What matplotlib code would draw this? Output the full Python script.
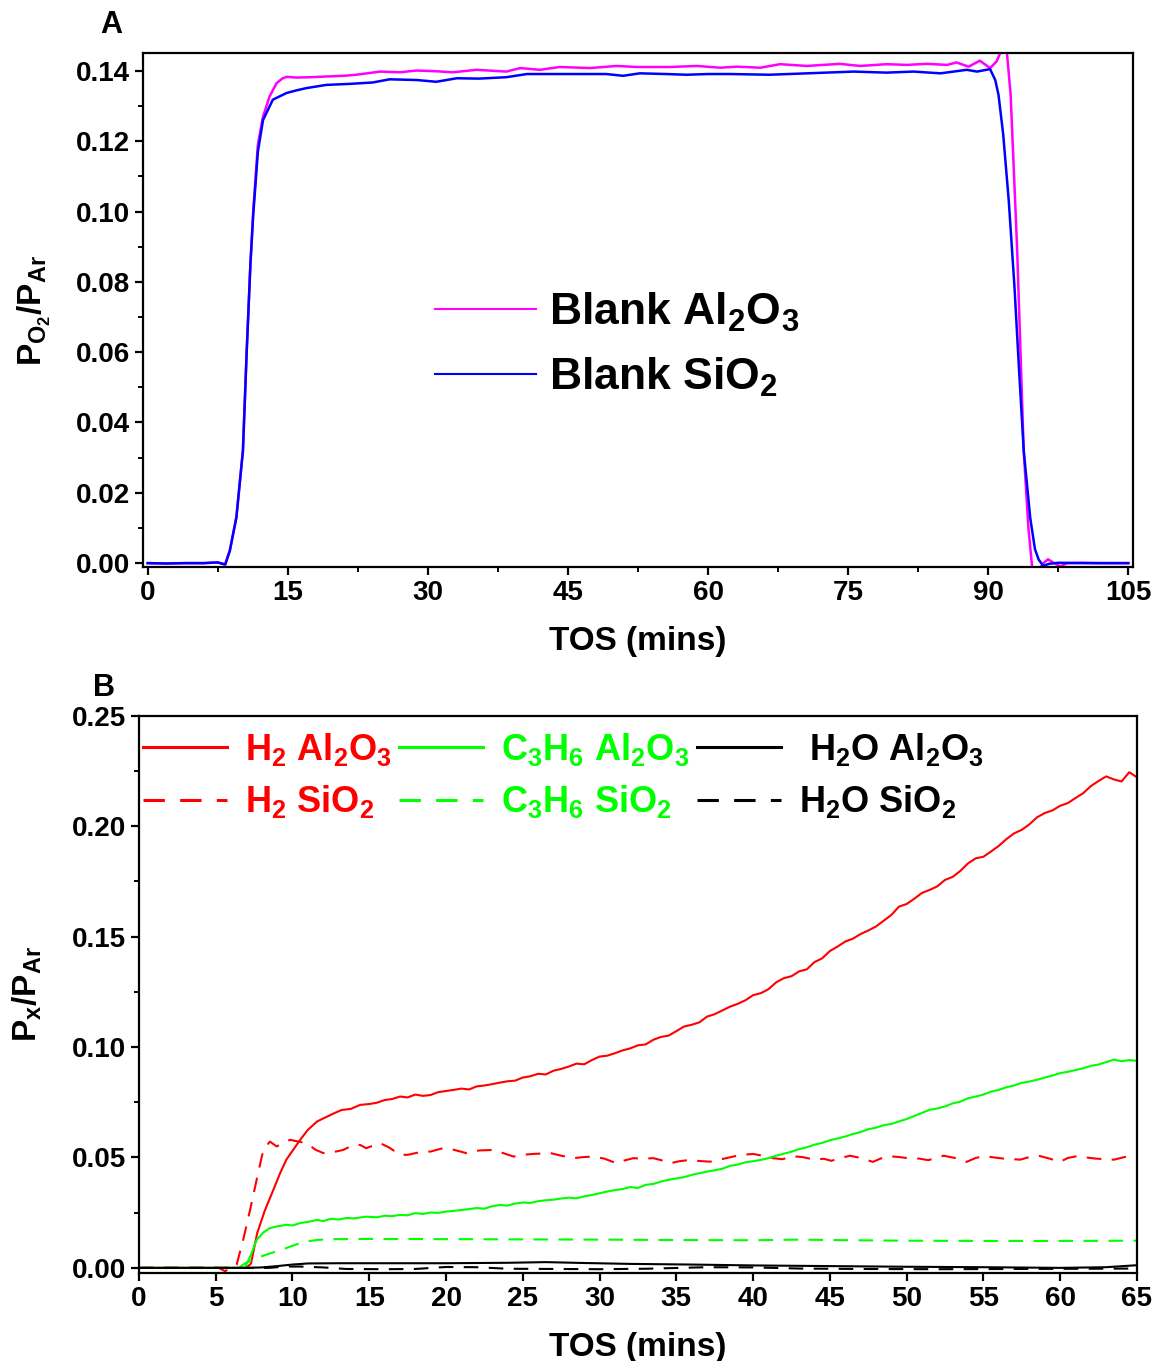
import matplotlib
matplotlib.use('Agg')
import matplotlib.pyplot as plt
from matplotlib.ticker import MultipleLocator, FormatStrFormatter

plt.rcParams['font.family'] = ['Liberation Sans', 'DejaVu Sans']
plt.rcParams['font.weight'] = 'bold'
plt.rcParams['mathtext.default'] = 'regular'

# ---- panel A: O2 signal over the blank supports ----
tA_al = [0, 2, 4, 6, 7.5, 8.3, 8.8, 9.5, 10.2, 10.6, 11.0, 11.3, 11.8, 12.35, 13.05,
         13.8, 14.4, 14.86, 15.9, 17.5, 19.1, 21, 22.35, 24.9, 27.0, 28.8, 30.8, 32.7,
         35.2, 38.4, 39.9, 42.0, 44.1, 47.4, 50.2, 52.4, 55.9, 58.8, 61.3, 63.1, 65.6,
         67.7, 70.6, 74.1, 76.3, 79.1, 81.3, 83.4, 85.6, 86.6, 87.9, 89.1, 90.2, 90.9,
         91.3, 91.6, 92.0, 92.4, 93.1, 93.8, 94.3, 94.7, 95.1, 95.6, 96.0, 96.4, 97.0,
         97.7, 98.5, 100, 102, 105]
o2_al = [0.0, -0.0001, 0.0, 0.0, 0.0002, -0.0004, 0.0037, 0.0131, 0.032, 0.060, 0.085,
         0.100, 0.119, 0.127, 0.1327, 0.1365, 0.1378, 0.1383, 0.1381, 0.1382, 0.1384,
         0.1386, 0.1389, 0.1398, 0.1396, 0.1401, 0.1399, 0.1396, 0.1403, 0.1398, 0.1408,
         0.1403, 0.1411, 0.1408, 0.1414, 0.1411, 0.1411, 0.1414, 0.1409, 0.1412, 0.1409,
         0.1419, 0.1414, 0.1420, 0.1414, 0.1419, 0.1417, 0.1420, 0.1417, 0.1424, 0.1412,
         0.1429, 0.1408, 0.1427, 0.1452, 0.1468, 0.1452, 0.1332, 0.089, 0.032, 0.010,
         -0.0011, -0.0035, -0.0011, 0.0002, 0.0011, 0.0001, -0.0009, 0.0, 0.0001, 0.0, 0.0]

tA_si = [0, 2, 4, 6, 7.5, 8.3, 8.8, 9.5, 10.2, 10.6, 11.0, 11.3, 11.8, 12.35, 13.4,
         14.86, 16, 17.0, 19.1, 21.6, 24.1, 25.9, 28.8, 30.9, 33.1, 35.5, 38.4, 40.6,
         45.6, 49.1, 50.9, 52.7, 55.5, 57.7, 60, 62.4, 66.6, 70.6, 75.6, 79.1, 82.0,
         84.9, 87.7, 88.8, 90.2, 90.75, 91.1, 91.6, 92.2, 92.8, 93.3, 93.8, 94.5, 95.0,
         95.4, 95.9, 96.5, 97.5, 100, 105]
o2_si = [0.0, -0.0001, 0.0, 0.0, 0.0002, -0.0004, 0.0035, 0.013, 0.032, 0.060, 0.085,
         0.099, 0.117, 0.126, 0.1318, 0.1337, 0.1345, 0.1351, 0.1360, 0.1363, 0.1367,
         0.1376, 0.1374, 0.1369, 0.1379, 0.1378, 0.1382, 0.1391, 0.1391, 0.1391, 0.1386,
         0.1393, 0.1391, 0.1389, 0.1391, 0.1391, 0.1389, 0.1393, 0.1398, 0.1395, 0.1398,
         0.1393, 0.1403, 0.1398, 0.1405, 0.1374, 0.1332, 0.122, 0.103, 0.079, 0.055,
         0.032, 0.0128, 0.004, 0.001, -0.0008, -0.0002, 0.0001, 0.0, 0.0]

# ---- panel B: products over the catalysts ----
tB_h2_al = [0, 2, 4, 6, 7.0, 7.3, 7.7, 8.2, 8.75, 9.2, 9.6, 10.0, 10.5, 11.0, 11.6,
            12.1, 12.7, 13.2, 13.8, 14.4, 15.0, 15.5, 16.0, 16.5, 17.0, 17.5, 18.0,
            18.5, 19.0, 19.5, 20.0, 20.5, 21, 21.5, 22, 22.5, 23, 23.5, 24, 24.5, 25,
            25.5, 26, 26.5, 27, 27.5, 28, 28.5, 29, 29.5, 30, 30.5, 31, 31.5, 32, 32.5,
            33, 33.5, 34, 34.5, 35, 35.5, 36, 36.5, 37, 37.5, 38, 38.5, 39, 39.5, 40,
            40.5, 41, 41.5, 42, 42.5, 43, 43.5, 44, 44.5, 45, 45.5, 46, 46.5, 47, 47.5,
            48, 48.5, 49, 49.5, 50, 50.5, 51, 51.5, 52, 52.5, 53, 53.5, 54, 54.5, 55,
            55.5, 56, 56.5, 57, 57.5, 58, 58.5, 59, 59.5, 60, 60.5, 61, 61.5, 62, 62.5,
            63, 63.5, 64, 64.5, 65]
h2_al = [0.0, 0.0, 0.0, 0.0, 0.0, 0.002, 0.0157, 0.026, 0.0353, 0.043, 0.049, 0.053,
         0.058, 0.0625, 0.0663, 0.068, 0.070, 0.0715, 0.072, 0.0738, 0.0742, 0.0748,
         0.0760, 0.0765, 0.0776, 0.0772, 0.0785, 0.0779, 0.0783, 0.0796, 0.0801, 0.0806,
         0.0812, 0.0808, 0.0822, 0.0826, 0.0832, 0.0839, 0.0845, 0.0848, 0.0862, 0.0868,
         0.0879, 0.0876, 0.0893, 0.0901, 0.0912, 0.0925, 0.0922, 0.0941, 0.0957, 0.0961,
         0.0972, 0.0985, 0.0994, 0.1008, 0.1012, 0.1033, 0.1046, 0.1052, 0.1072, 0.1093,
         0.1101, 0.1112, 0.1138, 0.1149, 0.1166, 0.1183, 0.1196, 0.1212, 0.1235, 0.1244,
         0.1262, 0.1293, 0.1312, 0.1321, 0.1343, 0.1352, 0.1385, 0.1402, 0.1435, 0.1455,
         0.1478, 0.1491, 0.1512, 0.1528, 0.1546, 0.1572, 0.1598, 0.1636, 0.1648, 0.1672,
         0.1698, 0.1712, 0.1728, 0.1757, 0.1771, 0.1798, 0.1832, 0.1855, 0.1862, 0.1886,
         0.1911, 0.1942, 0.1968, 0.1984, 0.2009, 0.2041, 0.2060, 0.2072, 0.2093, 0.2105,
         0.2128, 0.2150, 0.2182, 0.2205, 0.2226, 0.2212, 0.2203, 0.2245, 0.2222]

tB_c3_al = [0, 3, 6.9, 7.3, 7.67, 8.1, 8.53, 9.0, 9.6, 10.0, 10.5, 11.0, 11.6, 12.0,
            12.5, 13.0, 13.5, 14.0, 14.8, 15.5, 16, 16.5, 17, 17.5, 18, 18.5, 19, 19.5,
            20, 20.5, 21, 21.5, 22, 22.5, 23, 23.5, 24, 24.5, 25, 25.5, 26, 26.5, 27,
            27.5, 28, 28.5, 29, 29.5, 30, 30.5, 31, 31.5, 32, 32.5, 33, 33.5, 34, 34.5,
            35, 35.5, 36, 36.5, 37, 37.5, 38, 38.5, 39, 39.5, 40, 40.5, 41, 41.5, 42,
            42.5, 43, 43.5, 44, 44.5, 45, 45.5, 46, 46.5, 47, 47.5, 48, 48.5, 49, 49.5,
            50, 50.5, 51, 51.5, 52, 52.5, 53, 53.5, 54, 54.5, 55, 55.5, 56, 56.5, 57,
            57.5, 58, 58.5, 59, 59.5, 60, 60.5, 61, 61.5, 62, 62.5, 63, 63.5, 64, 64.5, 65]
c3_al = [0.0, 0.0, 0.0, 0.006, 0.0127, 0.016, 0.018, 0.0188, 0.0195, 0.0192, 0.0203,
         0.0208, 0.0217, 0.0212, 0.0222, 0.0219, 0.0226, 0.0224, 0.0232, 0.0229, 0.0236,
         0.0234, 0.0240, 0.0238, 0.0248, 0.0244, 0.0251, 0.0249, 0.0255, 0.0258, 0.0262,
         0.0266, 0.0271, 0.0268, 0.0279, 0.0285, 0.0282, 0.0291, 0.0296, 0.0294, 0.0302,
         0.0306, 0.0309, 0.0314, 0.0318, 0.0315, 0.0324, 0.0330, 0.0338, 0.0346, 0.0352,
         0.0357, 0.0366, 0.0362, 0.0376, 0.0380, 0.0391, 0.0399, 0.0405, 0.0411, 0.0421,
         0.0429, 0.0436, 0.0442, 0.0449, 0.0462, 0.0468, 0.0478, 0.0483, 0.0489, 0.0497,
         0.0508, 0.0517, 0.0526, 0.0538, 0.0546, 0.0558, 0.0566, 0.0578, 0.0586, 0.0595,
         0.0606, 0.0615, 0.0628, 0.0635, 0.0646, 0.0652, 0.0663, 0.0674, 0.0688, 0.0702,
         0.0716, 0.0722, 0.0731, 0.0745, 0.0753, 0.0768, 0.0776, 0.0785, 0.0798, 0.0806,
         0.0818, 0.0826, 0.0838, 0.0844, 0.0852, 0.0862, 0.0871, 0.0882, 0.0888, 0.0896,
         0.0904, 0.0915, 0.0921, 0.0932, 0.0943, 0.0936, 0.0941, 0.0938]

tB_h2_si = [0, 3, 5.2, 5.6, 6.0, 6.36, 6.8, 7.23, 7.7, 8.1, 8.53, 8.97, 9.4, 9.84, 10.4,
            10.9, 11.5, 12.0, 12.7, 13.3, 13.9, 14.4, 14.8, 15.3, 15.7, 16.3, 17.0, 17.5,
            18.3, 19.0, 19.8, 20.5, 21.3, 22.2, 23.1, 23.8, 24.4, 25.0, 25.7, 26.8, 27.5,
            28.3, 29.0, 29.6, 30.3, 31.1, 31.6, 32.2, 32.8, 33.5, 34.0, 34.6, 35.2, 35.9,
            36.5, 37.2, 38.0, 38.7, 39.3, 40.0, 40.6, 41.3, 41.9, 42.6, 43.2, 44.0, 44.6,
            45.1, 45.7, 46.3, 47.0, 47.8, 48.3, 48.8, 49.5, 50.2, 50.8, 51.4, 52.0, 52.4,
            53.2, 53.9, 54.5, 55.1, 55.7, 56.3, 57.0, 57.4, 58.0, 58.6, 59.3, 60.0, 60.5,
            61.1, 61.7, 62.3, 62.9, 63.5, 64.2, 65]
h2_si = [0.0, 0.0, 0.0, -0.0015, 0.0, 0.0014, 0.013, 0.026, 0.041, 0.0534, 0.0572, 0.055,
         0.0565, 0.058, 0.0572, 0.0565, 0.0535, 0.052, 0.0525, 0.0534, 0.0555, 0.0557,
         0.0542, 0.0555, 0.0565, 0.0545, 0.0512, 0.0512, 0.0524, 0.0527, 0.0542, 0.0535,
         0.052, 0.0532, 0.0534, 0.0518, 0.0504, 0.0512, 0.0516, 0.052, 0.0508, 0.0497,
         0.0502, 0.0504, 0.0495, 0.0474, 0.0486, 0.0497, 0.0494, 0.0497, 0.0488, 0.0474,
         0.0483, 0.0489, 0.0484, 0.0481, 0.0493, 0.0504, 0.0512, 0.0516, 0.0508, 0.0497,
         0.0492, 0.0505, 0.0502, 0.049, 0.0494, 0.0485, 0.0497, 0.0508, 0.0498, 0.048,
         0.0495, 0.0506, 0.0502, 0.0496, 0.0495, 0.0488, 0.0498, 0.0508, 0.0497, 0.048,
         0.0498, 0.0506, 0.05, 0.0495, 0.0492, 0.049, 0.0502, 0.0508, 0.0495, 0.048,
         0.0498, 0.0506, 0.05, 0.0495, 0.0492, 0.049, 0.0502, 0.0506]

tB_c3_si = [0, 6.5, 6.9, 7.5, 8.3, 9.0, 9.6, 10.2, 10.9, 11.7, 12.66, 15, 20, 25, 30,
            35, 40, 43, 45, 50, 55, 60, 65]
c3_si = [0.0, 0.0, 0.002, 0.004, 0.006, 0.0076, 0.009, 0.0105, 0.012, 0.0127, 0.013,
         0.0131, 0.013, 0.0129, 0.0128, 0.0126, 0.0125, 0.0128, 0.0126, 0.0123, 0.0122,
         0.0122, 0.0123]

tB_w_al = [0, 7, 8, 9, 10, 11, 13, 15, 20, 24, 26.5, 29, 32, 36, 40, 45, 50, 55, 60, 63, 65]
w_al = [0.0, 0.0, 0.0002, 0.0008, 0.0015, 0.002, 0.0021, 0.0021, 0.0021, 0.0023, 0.0026,
        0.0022, 0.0018, 0.0015, 0.0011, 0.0008, 0.0005, 0.0003, 0.0, 0.0003, 0.0012]

tB_w_si = [0, 7, 8.5, 9.5, 10.5, 12, 13.5, 16, 18, 20, 22, 24, 27, 30, 33, 37, 40, 43,
           47, 52, 57, 62, 65]
w_si = [0.0, 0.0, 0.0, 0.0006, 0.0006, 0.0002, -0.0005, -0.0006, -0.0005, 0.0004, 0.0003,
        -0.0004, -0.0005, -0.0006, -0.0004, 0.0003, 0.0002, -0.0003, -0.0005, -0.0006,
        -0.0005, -0.0004, -0.0003]

fig = plt.figure(figsize=(11.56, 13.61), dpi=100)
axA = fig.add_axes([0.1237, 0.5834, 0.8564, 0.3777])
axB = fig.add_axes([0.1202, 0.0647, 0.8633, 0.4093])

axA.plot(tA_al, o2_al, color='#ff00ff', lw=1.8, label=r'Blank Al$_2$O$_3$')
axA.plot(tA_si, o2_si, color='#0000ff', lw=1.8, label=r'Blank SiO$_2$')
axA.set_xlim(-0.5, 105.5)
axA.set_ylim(-0.0011, 0.1451)
axA.xaxis.set_major_locator(MultipleLocator(15))
axA.xaxis.set_minor_locator(MultipleLocator(7.5))
axA.yaxis.set_major_locator(MultipleLocator(0.02))
axA.yaxis.set_minor_locator(MultipleLocator(0.01))
axA.yaxis.set_major_formatter(FormatStrFormatter('%.2f'))
axA.set_xlabel('TOS (mins)', fontsize=24, fontweight='bold', labelpad=14)
axA.set_ylabel(r'P$_{O_2}$/P$_{Ar}$', fontsize=24, fontweight='bold', labelpad=16)
legA = axA.legend(loc='center left', bbox_to_anchor=(0.295, 0.432), frameon=False,
                  fontsize=32, handlelength=2.27, handletextpad=0.3, labelspacing=0.5,
                  borderpad=0, borderaxespad=0)
for h in legA.legend_handles:
    h.set_linewidth(1.5)

dash = (7, 5)
axB.plot(tB_h2_al, h2_al, color='#ff0000', lw=1.5, label=r'H$_2$ Al$_2$O$_3$')
axB.plot(tB_h2_si, h2_si, color='#ff0000', lw=1.5, dashes=dash, label=r'H$_2$ SiO$_2$')
axB.plot(tB_c3_al, c3_al, color='#00ff00', lw=1.5, label=r'C$_3$H$_6$ Al$_2$O$_3$')
axB.plot(tB_c3_si, c3_si, color='#00ff00', lw=1.5, dashes=dash, label=r'C$_3$H$_6$ SiO$_2$')
axB.plot(tB_w_al, w_al, color='black', lw=1.5, label=r' H$_2$O Al$_2$O$_3$')
axB.plot(tB_w_si, w_si, color='black', lw=1.5, dashes=dash, label=r'H$_2$O SiO$_2$')
axB.set_xlim(0, 65)
axB.set_ylim(-0.0023, 0.25)
axB.xaxis.set_major_locator(MultipleLocator(5))
axB.yaxis.set_major_locator(MultipleLocator(0.05))
axB.yaxis.set_minor_locator(MultipleLocator(0.025))
axB.yaxis.set_major_formatter(FormatStrFormatter('%.2f'))
axB.set_xlabel('TOS (mins)', fontsize=24, fontweight='bold', labelpad=14)
axB.set_ylabel(r'P$_x$/P$_{Ar}$', fontsize=24, fontweight='bold', labelpad=20)
legB = axB.legend(loc='center left', bbox_to_anchor=(0.004, 0.893), frameon=False,
                  ncol=3, fontsize=26, handlelength=2.33, handletextpad=0.5,
                  labelspacing=0.43, columnspacing=0.2, borderpad=0, borderaxespad=0,
                  labelcolor='linecolor')
for h in legB.legend_handles:
    h.set_linewidth(2.2)

for ax in (axA, axB):
    for s in ax.spines.values():
        s.set_linewidth(1.6)
    ax.tick_params(which='major', direction='out', length=6, width=1.6,
                   labelsize=20, top=False, right=False)
    ax.tick_params(which='minor', direction='out', length=3.5, width=1.4,
                   top=False, right=False)
    for lab in ax.get_xticklabels() + ax.get_yticklabels():
        lab.set_fontweight('bold')

axB.tick_params(axis='x', which='minor', bottom=False)

fig.text(111 / 1156, 1 - 25 / 1361, 'A', fontsize=22, fontweight='bold', ha='center', va='center')
fig.text(104 / 1156, 1 - 688 / 1361, 'B', fontsize=22, fontweight='bold', ha='center', va='center')

fig.savefig('out.png', dpi=100)
